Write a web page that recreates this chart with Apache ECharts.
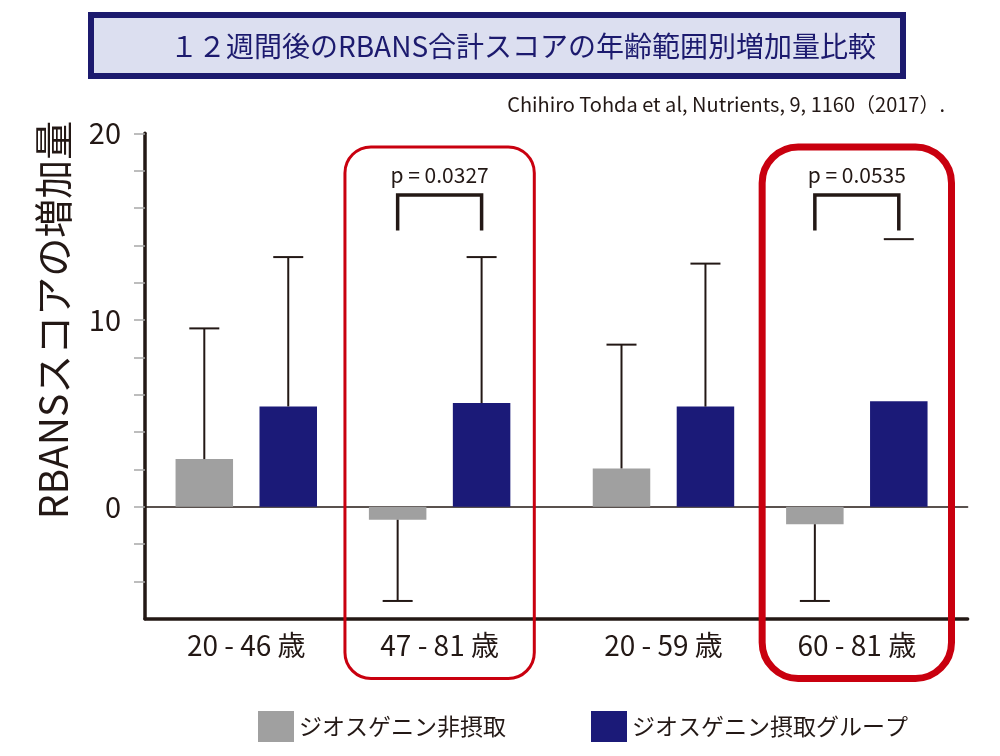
<!DOCTYPE html>
<html><head><meta charset="utf-8">
<script src="https://cdn.jsdelivr.net/npm/echarts@6/dist/echarts.min.js"></script>
<style>html,body{margin:0;padding:0;background:#fff}#c{width:1000px;height:756px}</style>
</head><body><div id="c"></div>
<script>
// ---------- data ----------
const titleText = '１２週間後のRBANS合計スコアの年齢範囲別増加量比較';
const citation = 'Chihiro Tohda et al, Nutrients, 9, 1160（2017）.';
const yAxisName = 'RBANSスコアの増加量';
const groups = ['20 - 46 歳', '47 - 81 歳', '20 - 59 歳', '60 - 81 歳'];
const seriesNames = ['ジオスゲニン非摂取', 'ジオスゲニン摂取グループ'];
const nonIntakeMean = [2.55, -0.70, 2.05, -0.94];
const nonIntakeSD   = [7.00, 4.35, 6.63, 4.11];
const intakeMean    = [5.37, 5.55, 5.36, 5.65];
const intakeSD      = [8.00, 7.82, 7.66, 8.68];
const intakeStemDrawn = [true, true, true, false];
const pValues = ['p = 0.0327', 'p = 0.0535'];
const yTickValues = [-4, -2, 0, 2, 4, 6, 8, 10, 12, 14, 16, 18, 20];
const yLabelValues = [0, 10, 20];

// ---------- style ----------
const INK = '#231815', GRAY = '#a0a0a0', NAVY = '#1b1a78', RED = '#c9000f';
const FONT = '"Noto Sans CJK JP", "Noto Sans", sans-serif';
const BAR_W = 57.5, GAP = 0.46, CAP = 30;
const Y_MIN = -6, Y_MAX = 20;
const TOP = 133.3, PLOT_H = 485.4;

const chart = echarts.init(document.getElementById('c'), null, {renderer: 'canvas'});

function errRender(params, api) {
  const cat = api.value(0), mean = api.value(1), end = api.value(2), s = api.value(3), stem = api.value(4);
  const off = (s === 0 ? -1 : 1) * BAR_W * (1 + GAP) / 2;
  const cx = api.coord([cat, 0])[0] + off;
  const y0 = api.coord([cat, mean])[1];
  const y1 = api.coord([cat, end])[1];
  const ch = [];
  if (stem) ch.push({type: 'line', shape: {x1: cx, y1: y0, x2: cx, y2: y1}, style: {stroke: INK, lineWidth: 2}});
  ch.push({type: 'line', shape: {x1: cx - CAP / 2, y1: y1, x2: cx + CAP / 2, y2: y1}, style: {stroke: INK, lineWidth: 2}});
  return {type: 'group', children: ch};
}
function boxRender(params, api) {
  const cat = api.value(0), thick = api.value(1);
  const cx = api.coord([cat, 0])[0];
  const w = api.size([1, 0])[0] - 4;
  const yt = api.coord([cat, 19.27])[1], yb = api.coord([cat, -9.2])[1];
  return {type: 'rect', shape: {x: cx - w / 2, y: yt, width: w, height: yb - yt, r: thick ? 36 : 26},
    style: {fill: null, stroke: RED, lineWidth: thick ? 7 : 3}, z2: 10};
}
function bracketRender(params, api) {
  const cat = api.value(0), p = api.value(1);
  const cx = api.coord([cat, 0])[0];
  const off = BAR_W * (1 + GAP) / 2;
  const yt = api.coord([cat, 16.7])[1], yb = api.coord([cat, 14.8])[1], yTxt = api.coord([cat, 17.77])[1];
  return {type: 'group', children: [
    {type: 'polyline', shape: {points: [[cx - off, yb], [cx - off, yt], [cx + off, yt], [cx + off, yb]]},
      style: {stroke: INK, lineWidth: 3.5, fill: null}},
    {type: 'text', x: cx, y: yTxt, style: {text: pValues[p], fill: INK, font: '21px ' + FONT, align: 'center', verticalAlign: 'middle'}}
  ]};
}

const panels = [[0, 1], [2, 3]];
const grids = [{left: 145, right: 32.4, top: TOP, height: PLOT_H}];
const xAxes = [
  {gridIndex: 0, type: 'value', min: 0, max: 1, position: 'bottom',
    axisLine: {show: true, onZero: false, lineStyle: {color: INK, width: 3.5}},
    axisTick: {show: false}, axisLabel: {show: false}, splitLine: {show: false}},
  {gridIndex: 0, type: 'value', min: 0, max: 1, position: 'top',
    axisLine: {show: true, onZero: true, lineStyle: {color: INK, width: 1.5}},
    axisTick: {show: false}, axisLabel: {show: false}, splitLine: {show: false}}
];
const yAxes = [
  {gridIndex: 0, type: 'value', min: Y_MIN, max: Y_MAX, interval: 2,
    axisLine: {show: true, onZero: false, lineStyle: {color: INK, width: 3.5}},
    axisTick: {show: true, length: 11, customValues: yTickValues, lineStyle: {color: '#a8a8a8', width: 1.5}},
    axisLabel: {customValues: yLabelValues, color: INK, fontSize: 29, fontFamily: FONT, margin: 24},
    splitLine: {show: false}}
];
const series = [];
const panelLefts = [149.6, 566.8];
panels.forEach((idx, p) => {
  const gi = p + 1;
  grids.push({left: panelLefts[p], width: 386.7, top: TOP, height: PLOT_H});
  xAxes.push({gridIndex: gi, type: 'category', data: idx.map(i => groups[i]), position: 'bottom',
    axisLine: {show: false, onZero: false}, axisTick: {show: false},
    axisLabel: {color: INK, fontSize: 28, fontFamily: FONT, margin: 13}});
  yAxes.push({gridIndex: gi, type: 'value', min: Y_MIN, max: Y_MAX, show: false});
  const xi = gi + 1, yi = gi;
  series.push({type: 'bar', name: seriesNames[0], xAxisIndex: xi, yAxisIndex: yi, barWidth: BAR_W, barGap: (GAP * 100) + '%',
    itemStyle: {color: GRAY}, data: idx.map(i => nonIntakeMean[i]), animation: false});
  series.push({type: 'bar', name: seriesNames[1], xAxisIndex: xi, yAxisIndex: yi, barWidth: BAR_W, barGap: (GAP * 100) + '%',
    itemStyle: {color: NAVY}, data: idx.map(i => intakeMean[i]), animation: false});
  const err = [];
  idx.forEach((i, j) => {
    const m0 = nonIntakeMean[i];
    err.push([j, m0, m0 + (m0 >= 0 ? 1 : -1) * nonIntakeSD[i], 0, 1]);
    const m1 = intakeMean[i];
    err.push([j, m1, m1 + (m1 >= 0 ? 1 : -1) * intakeSD[i], 1, intakeStemDrawn[i] ? 1 : 0]);
  });
  series.push({type: 'custom', xAxisIndex: xi, yAxisIndex: yi, renderItem: errRender, data: err, z: 4, clip: false,
    encode: {x: 0, y: [1, 2]}, silent: true, animation: false});
  series.push({type: 'custom', xAxisIndex: xi, yAxisIndex: yi, renderItem: bracketRender, data: [[1, p]], z: 4, clip: false,
    encode: {x: 0, y: 1}, silent: true, animation: false});
  series.push({type: 'custom', xAxisIndex: xi, yAxisIndex: yi, renderItem: boxRender, data: [[1, p]], z: 5, clip: false,
    encode: {x: 0, y: 1}, silent: true, animation: false});
});

chart.setOption({
  animation: false,
  backgroundColor: '#fff',
  grid: grids, xAxis: xAxes, yAxis: yAxes, series: series,
  legend: {data: seriesNames, left: 258, top: 711, padding: 0, icon: 'rect', itemWidth: 36, itemHeight: 31, itemGap: 85,
    textStyle: {color: INK, fontSize: 23, fontFamily: FONT}, selectedMode: false},
  graphic: [
    {type: 'rect', shape: {x: 91, y: 15, width: 812, height: 61}, style: {fill: '#dcdff0', stroke: '#1c1a6e', lineWidth: 6}, z: 1},
    {type: 'text', x: 523, y: 46, style: {text: titleText, fill: '#1c1a6e', font: '28px ' + FONT, align: 'center', verticalAlign: 'middle'}, z: 2},
    {type: 'text', x: 945, y: 104, style: {text: citation, fill: INK, font: '20px ' + FONT, align: 'right', verticalAlign: 'middle'}, z: 2},
    {type: 'text', x: 53.5, y: 320, rotation: Math.PI / 2, style: {text: yAxisName, fill: INK, font: '39px ' + FONT, align: 'center', verticalAlign: 'middle'}, z: 2}
  ]
});
</script></body></html>
